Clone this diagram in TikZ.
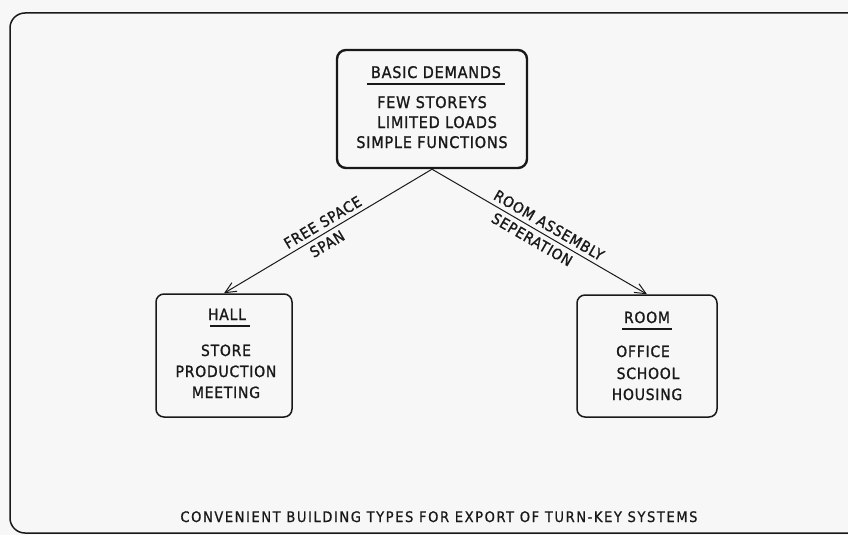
\documentclass[tikz,border=0pt]{standalone}
\usepackage{fontspec}
\setmainfont{DejaVu Sans Condensed}[LetterSpace=5,FakeBold=1.2]
\newfontfamily\capfont{DejaVu Sans Condensed}[LetterSpace=11,FakeBold=0.8]
\usetikzlibrary{arrows.meta}
\definecolor{paper}{RGB}{247,247,247}
\definecolor{ink}{RGB}{25,25,25}
\tikzset{
  box/.style={draw=ink, rounded corners=8pt, inner sep=0pt},
  txt/.style={text=ink, inner sep=0pt, anchor=base, font=\fontsize{15.5}{15.5}\selectfont},
  bigtxt/.style={txt, font=\fontsize{16}{16}\selectfont},
  uline/.style={draw=ink, line width=1.6pt},
  conn/.style={draw=ink, line width=1pt, -{Straight Barb[length=11pt,width=10pt,line width=1pt]}},
  lbl/.style={text=ink, inner sep=4.5pt, sloped, font=\fontsize{15}{15}\selectfont},
}
\begin{document}
\begin{tikzpicture}[x=1pt,y=-1pt]
\useasboundingbox[fill=paper] (0,0) rectangle (848,535);
% outer frame
\draw[ink, line width=1.5pt, rounded corners=15pt] (10,13) rectangle (870,533);

% top box
\node[box, line width=2.4pt, minimum width=190pt, minimum height=118pt, rounded corners=9pt] (top) at (432,109) {};
\node[bigtxt] (tt) at (436,78) {BASIC DEMANDS};
\draw[uline] (367,84) -- (505,84);
\node[bigtxt] (t1) at (432,108) {FEW STOREYS};
\node[bigtxt] (t2) at (437,128) {LIMITED LOADS};
\node[bigtxt] (t3) at (432,148) {SIMPLE FUNCTIONS};

% hall box
\node[box, line width=1.5pt, minimum width=136pt, minimum height=123pt] (hall) at (224,355.5) {};
\node[txt] (ht) at (227,320) {HALL};
\draw[uline] (210,326) -- (250,326);
\node[txt] (h1) at (226,356) {STORE};
\node[txt] (h2) at (226,377) {PRODUCTION};
\node[txt] (h3) at (226,398) {MEETING};

% room box
\node[box, line width=1.5pt, minimum width=140pt, minimum height=122pt] (room) at (647,356) {};
\node[txt] (rt) at (647,323) {ROOM};
\draw[uline] (622,329) -- (672,329);
\node[txt] (r1) at (643,357) {OFFICE};
\node[txt] (r2) at (648,379) {SCHOOL};
\node[txt] (r3) at (647,400) {HOUSING};

% connectors
\coordinate (apex) at (top.south);
\draw[conn] (apex) -- (hall.north);
\draw[conn] (apex) -- (room.north);
\path (hall.north) -- node[lbl, above, pos=0.50] (l1) {FREE SPACE} node[lbl, below, pos=0.47] (l2) {SPAN} (apex);
\path (apex) -- node[lbl, above, pos=0.52] (l3) {ROOM ASSEMBLY} node[lbl, below, pos=0.49] (l4) {SEPERATION} (room.north);

% caption
\node[txt, font=\capfont\fontsize{14.5}{14.5}\selectfont] (cap) at (439,522) {CONVENIENT BUILDING TYPES FOR EXPORT OF TURN-KEY SYSTEMS};
\end{tikzpicture}
\end{document}
